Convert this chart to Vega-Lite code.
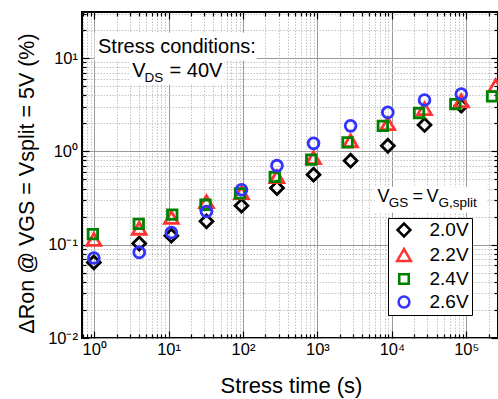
{
  "$schema": "https://vega.github.io/schema/vega-lite/v6.json",
  "width": 416,
  "height": 326,
  "autosize": {"type": "none"},
  "padding": {"left": 82, "top": 12, "right": 0, "bottom": 61},
  "background": "white",
  "config": {
    "font": "Liberation Sans",
    "view": {"stroke": "black", "strokeWidth": 2}
  },
  "datasets": {
    "pts": [
      {"t": 0.99, "dr": 0.0646, "vgs": "2.0V"},
      {"t": 4.03, "dr": 0.103, "vgs": "2.0V"},
      {"t": 10.9, "dr": 0.125, "vgs": "2.0V"},
      {"t": 32.3, "dr": 0.178, "vgs": "2.0V"},
      {"t": 95.5, "dr": 0.262, "vgs": "2.0V"},
      {"t": 286, "dr": 0.405, "vgs": "2.0V"},
      {"t": 887, "dr": 0.563, "vgs": "2.0V"},
      {"t": 2790, "dr": 0.795, "vgs": "2.0V"},
      {"t": 8830, "dr": 1.15, "vgs": "2.0V"},
      {"t": 27500, "dr": 1.92, "vgs": "2.0V"},
      {"t": 85700, "dr": 3.09, "vgs": "2.0V"},
      {"t": 0.99, "dr": 0.114, "vgs": "2.2V"},
      {"t": 4.03, "dr": 0.15, "vgs": "2.2V"},
      {"t": 10.9, "dr": 0.196, "vgs": "2.2V"},
      {"t": 32.3, "dr": 0.289, "vgs": "2.2V"},
      {"t": 95.5, "dr": 0.361, "vgs": "2.2V"},
      {"t": 286, "dr": 0.535, "vgs": "2.2V"},
      {"t": 887, "dr": 0.855, "vgs": "2.2V"},
      {"t": 2790, "dr": 1.3, "vgs": "2.2V"},
      {"t": 8830, "dr": 1.98, "vgs": "2.2V"},
      {"t": 27500, "dr": 2.87, "vgs": "2.2V"},
      {"t": 85700, "dr": 3.49, "vgs": "2.2V"},
      {"t": 248000, "dr": 5.06, "vgs": "2.2V"},
      {"t": 0.96, "dr": 0.13, "vgs": "2.4V"},
      {"t": 3.97, "dr": 0.167, "vgs": "2.4V"},
      {"t": 11.2, "dr": 0.21, "vgs": "2.4V"},
      {"t": 31.3, "dr": 0.268, "vgs": "2.4V"},
      {"t": 91.2, "dr": 0.355, "vgs": "2.4V"},
      {"t": 267, "dr": 0.532, "vgs": "2.4V"},
      {"t": 826, "dr": 0.815, "vgs": "2.4V"},
      {"t": 2540, "dr": 1.25, "vgs": "2.4V"},
      {"t": 7570, "dr": 1.88, "vgs": "2.4V"},
      {"t": 23200, "dr": 2.58, "vgs": "2.4V"},
      {"t": 71300, "dr": 3.22, "vgs": "2.4V"},
      {"t": 222000, "dr": 3.89, "vgs": "2.4V"},
      {"t": 0.99, "dr": 0.072, "vgs": "2.6V"},
      {"t": 4.03, "dr": 0.0827, "vgs": "2.6V"},
      {"t": 10.9, "dr": 0.135, "vgs": "2.6V"},
      {"t": 32.3, "dr": 0.227, "vgs": "2.6V"},
      {"t": 95.5, "dr": 0.388, "vgs": "2.6V"},
      {"t": 286, "dr": 0.703, "vgs": "2.6V"},
      {"t": 887, "dr": 1.22, "vgs": "2.6V"},
      {"t": 2790, "dr": 1.88, "vgs": "2.6V"},
      {"t": 8830, "dr": 2.62, "vgs": "2.6V"},
      {"t": 27500, "dr": 3.56, "vgs": "2.6V"},
      {"t": 85700, "dr": 4.12, "vgs": "2.6V"}
    ],
    "boxes": [
      {"x": 1.01, "x2": 152, "y": 18.7, "y2": 9.38},
      {"x": 2.98, "x2": 56.4, "y": 9.38, "y2": 5.19},
      {"x": 5850, "x2": 187000, "y": 0.418, "y2": 0.22}
    ],
    "big": [
      {"x": 1.125, "y": 11.35, "text": "Stress conditions:"},
      {"x": 3.24, "y": 6.24, "text": "V"},
      {"x": 10.3, "y": 6.24, "text": "= 40V"}
    ],
    "mid": [
      {"x": 6427, "y": 0.284, "text": "V"},
      {"x": 18970, "y": 0.284, "text": "="},
      {"x": 29250, "y": 0.284, "text": "V"}
    ],
    "sub": [
      {"x": 4.74, "y": 5.49, "text": "DS"},
      {"x": 9120, "y": 0.251, "text": "GS"},
      {"x": 42400, "y": 0.251, "text": "G,split"}
    ]
  },
  "layer": [
    {
      "data": {"name": "boxes"},
      "mark": {"type": "rect", "fill": "white"},
      "encoding": {
        "x": {
          "field": "x", "type": "quantitative",
          "scale": {"type": "log", "domain": [0.686, 267000], "nice": false},
          "axis": {
            "orient": "bottom", "labels": false, "grid": true, "domain": false, "title": null,
            "values": [0.7,0.8,0.9,2,3,4,5,6,7,8,9,20,30,40,50,60,70,80,90,200,300,400,500,600,700,800,900,2000,3000,4000,5000,6000,7000,8000,9000,20000,30000,40000,50000,60000,70000,80000,90000,200000],
            "tickColor": "black", "tickWidth": 1.2, "tickSize": -4,
            "gridColor": "#c4c4c4", "gridDash": [1.5, 1.5], "gridWidth": 1
          }
        },
        "x2": {"field": "x2"},
        "y": {
          "field": "y", "type": "quantitative",
          "scale": {"type": "log", "domain": [0.01, 31.2], "nice": false},
          "axis": {
            "orient": "left", "labels": false, "grid": true, "domain": false, "title": null,
            "values": [0.02,0.03,0.04,0.05,0.06,0.07,0.08,0.09,0.2,0.3,0.4,0.5,0.6,0.7,0.8,0.9,2,3,4,5,6,7,8,9,20,30],
            "tickColor": "black", "tickWidth": 1.2, "tickSize": -4,
            "gridColor": "#c4c4c4", "gridDash": [1.5, 1.5], "gridWidth": 1
          }
        },
        "y2": {"field": "y2"}
      }
    },
    {
      "data": {"name": "pts"},
      "mark": {"type": "point", "filled": false, "strokeWidth": 2.8, "opacity": 1},
      "encoding": {
        "x": {
          "field": "t", "type": "quantitative",
          "scale": {"type": "log", "domain": [0.686, 267000], "nice": false},
          "axis": {
            "orient": "bottom", "domain": false, "grid": true,
            "values": [1, 10, 100, 1000, 10000, 100000],
            "labelExpr": "'10' + (round(log(datum.value)/LN10) == 0 ? '⁰' : round(log(datum.value)/LN10) == 1 ? '¹' : round(log(datum.value)/LN10) == 2 ? '²' : round(log(datum.value)/LN10) == 3 ? '³' : round(log(datum.value)/LN10) == 4 ? '⁴' : '⁵')",
            "labelOverlap": false, "labelFlush": false,
            "labelFont": "Liberation Sans", "labelFontSize": 16.5, "labelColor": "black", "labelPadding": 10,
            "tickColor": "black", "tickWidth": 1.2, "tickSize": -7,
            "gridColor": "#9a9a9a", "gridWidth": 1,
            "title": "Stress time (s)", "titleFont": "Liberation Sans", "titleFontSize": 22, "titleFontWeight": "normal", "titleColor": "black",
            "titleBaseline": "alphabetic", "titleY": 54, "titleX": 209
          }
        },
        "y": {
          "field": "dr", "type": "quantitative",
          "scale": {"type": "log", "domain": [0.01, 31.2], "nice": false},
          "axis": {
            "orient": "left", "domain": false, "grid": true,
            "values": [0.01, 0.1, 1, 10],
            "labelExpr": "'10' + (round(log(datum.value)/LN10) == 0 ? '⁰' : round(log(datum.value)/LN10) == 1 ? '¹' : round(log(datum.value)/LN10) == -1 ? '⁻¹' : '⁻²')",
            "labelOverlap": false, "labelFlush": false,
            "labelFont": "Liberation Sans", "labelFontSize": 16.5, "labelColor": "black", "labelPadding": 11.5,
            "tickColor": "black", "tickWidth": 1.2, "tickSize": -7,
            "gridColor": "#9a9a9a", "gridWidth": 1,
            "title": "ΔRon @ VGS = Vsplit = 5V (%)", "titleFont": "Liberation Sans", "titleFontSize": 21.5, "titleFontWeight": "normal", "titleColor": "black",
            "titleBaseline": "alphabetic", "titleX": -49, "titleY": 171
          }
        },
        "color": {
          "field": "vgs", "type": "nominal",
          "scale": {"domain": ["2.0V", "2.2V", "2.4V", "2.6V"], "range": ["black", "#ff3333", "#008000", "#3333ff"]},
          "legend": {
            "orient": "none", "legendX": 306, "legendY": 206, "title": null,
            "strokeColor": "black", "fillColor": "white", "padding": 2.5,
            "labelFont": "Liberation Sans", "labelFontSize": 19, "labelColor": "black", "labelOffset": 16,
            "symbolStrokeWidth": 2.5, "symbolSize": 64, "symbolOffset": 4, "rowPadding": 2
          }
        },
        "shape": {
          "field": "vgs", "type": "nominal",
          "scale": {"domain": ["2.0V", "2.2V", "2.4V", "2.6V"], "range": ["diamond", "triangle-up", "square", "circle"]},
          "legend": {
            "orient": "none", "legendX": 306, "legendY": 206, "title": null,
            "strokeColor": "black", "fillColor": "white", "padding": 2.5,
            "labelFont": "Liberation Sans", "labelFontSize": 19, "labelColor": "black", "labelOffset": 16,
            "symbolStrokeWidth": 2.5, "symbolSize": 64, "symbolOffset": 4, "rowPadding": 2
          }
        },
        "size": {
          "field": "vgs", "type": "nominal",
          "scale": {"type": "ordinal", "domain": ["2.0V", "2.2V", "2.4V", "2.6V"], "range": [165, 190, 90, 117]},
          "legend": null
        }
      }
    },
    {
      "data": {"name": "big"},
      "mark": {"type": "text", "fontSize": 20, "align": "left", "baseline": "alphabetic", "color": "black"},
      "encoding": {
        "x": {"field": "x", "type": "quantitative", "scale": {"type": "log", "domain": [0.686, 267000], "nice": false},
          "axis": {"orient": "top", "labels": false, "grid": false, "domain": false, "title": null, "values": [1, 10, 100, 1000, 10000, 100000], "tickColor": "black", "tickWidth": 1.2, "tickSize": -7}},
        "y": {"field": "y", "type": "quantitative", "scale": {"type": "log", "domain": [0.01, 31.2], "nice": false},
          "axis": {"orient": "right", "labels": false, "grid": false, "domain": false, "title": null, "values": [0.01, 0.1, 1, 10], "tickColor": "black", "tickWidth": 1.2, "tickSize": -7}},
        "text": {"field": "text"}
      }
    },
    {
      "data": {"name": "mid"},
      "mark": {"type": "text", "fontSize": 18, "align": "left", "baseline": "alphabetic", "color": "black"},
      "encoding": {
        "x": {"field": "x", "type": "quantitative", "scale": {"type": "log", "domain": [0.686, 267000], "nice": false},
          "axis": {"orient": "top", "labels": false, "grid": false, "domain": false, "title": null, "values": [0.7,0.8,0.9,2,3,4,5,6,7,8,9,20,30,40,50,60,70,80,90,200,300,400,500,600,700,800,900,2000,3000,4000,5000,6000,7000,8000,9000,20000,30000,40000,50000,60000,70000,80000,90000,200000], "tickColor": "black", "tickWidth": 1.2, "tickSize": -4}},
        "y": {"field": "y", "type": "quantitative", "scale": {"type": "log", "domain": [0.01, 31.2], "nice": false},
          "axis": {"orient": "right", "labels": false, "grid": false, "domain": false, "title": null, "values": [0.02,0.03,0.04,0.05,0.06,0.07,0.08,0.09,0.2,0.3,0.4,0.5,0.6,0.7,0.8,0.9,2,3,4,5,6,7,8,9,20,30], "tickColor": "black", "tickWidth": 1.2, "tickSize": -4}},
        "text": {"field": "text"}
      }
    },
    {
      "data": {"name": "sub"},
      "mark": {"type": "text", "fontSize": 13.5, "align": "left", "baseline": "alphabetic", "color": "black"},
      "encoding": {
        "x": {"field": "x", "type": "quantitative", "scale": {"type": "log", "domain": [0.686, 267000], "nice": false}, "axis": null},
        "y": {"field": "y", "type": "quantitative", "scale": {"type": "log", "domain": [0.01, 31.2], "nice": false}, "axis": null},
        "text": {"field": "text"}
      }
    }
  ],
  "resolve": {"axis": {"x": "independent", "y": "independent"}}
}
